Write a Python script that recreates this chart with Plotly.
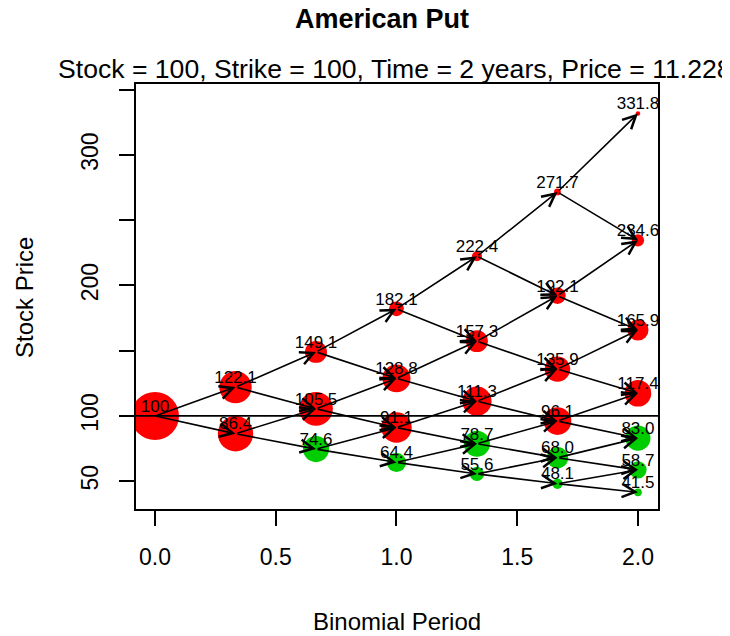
import math
import plotly.graph_objects as go

# ---- data ----
step_times = [0.0, 0.3333, 0.6667, 1.0, 1.3333, 1.6667, 2.0]

price_step0 = [100.0]
price_step1 = [122.1, 86.4]
price_step2 = [149.1, 105.5, 74.6]
price_step3 = [182.1, 128.8, 91.1, 64.4]
price_step4 = [222.4, 157.3, 111.3, 78.7, 55.6]
price_step5 = [271.7, 192.1, 135.9, 96.1, 68.0, 48.1]
price_step6 = [331.8, 234.6, 165.9, 117.4, 83.0, 58.7, 41.5]

# 1 = early exercise optimal (green), 0 = hold (red)
exercise_step0 = [0]
exercise_step1 = [0, 0]
exercise_step2 = [0, 0, 1]
exercise_step3 = [0, 0, 0, 1]
exercise_step4 = [0, 0, 0, 1, 1]
exercise_step5 = [0, 0, 0, 0, 1, 1]
exercise_step6 = [0, 0, 0, 0, 1, 1, 1]

# probability of reaching each node (symbol area is proportional to it)
reach_step0 = [1.0]
reach_step1 = [0.457, 0.543]
reach_step2 = [0.209, 0.496, 0.295]
reach_step3 = [0.095, 0.340, 0.404, 0.160]
reach_step4 = [0.044, 0.207, 0.370, 0.293, 0.087]
reach_step5 = [0.020, 0.118, 0.281, 0.334, 0.199, 0.047]
reach_step6 = [0.009, 0.065, 0.193, 0.306, 0.272, 0.130, 0.026]

strike = 100
title_text = "American Put"
subtitle_text = "Stock = 100, Strike = 100, Time = 2 years, Price = 11.228"
x_ticks = [0.0, 0.5, 1.0, 1.5, 2.0]
x_ticklabels = ["0.0", "0.5", "1.0", "1.5", "2.0"]
y_ticks = [50, 100, 150, 200, 250, 300, 350]
y_ticklabels = ["50", "100", "", "200", "", "300", ""]

prices = [price_step0, price_step1, price_step2, price_step3,
          price_step4, price_step5, price_step6]
exercise = [exercise_step0, exercise_step1, exercise_step2, exercise_step3,
            exercise_step4, exercise_step5, exercise_step6]
reach = [reach_step0, reach_step1, reach_step2, reach_step3,
         reach_step4, reach_step5, reach_step6]

# ---- styling ----
FONT = "Liberation Sans, Arial, Helvetica, sans-serif"
RED = "#FF0000"
GREEN = "#00CD00"
MAX_D = 48
OFF = 8  # default page margin around the plot div

xs, ys, cols, sizes, labels = [], [], [], [], []
for i, t in enumerate(step_times):
    for j, v in enumerate(prices[i]):
        xs.append(t)
        ys.append(v)
        cols.append(GREEN if exercise[i][j] else RED)
        sizes.append(MAX_D * math.sqrt(reach[i][j]))
        labels.append("100" if i == 0 else f"{v:.1f}")

fig = go.Figure()
fig.add_trace(go.Scatter(
    x=xs, y=ys, mode="markers",
    marker=dict(size=sizes, color=cols, opacity=1, line=dict(width=0)),
    cliponaxis=True, hoverinfo="skip", showlegend=False))

fig.add_trace(go.Scatter(
    x=xs, y=ys, mode="text", text=labels, textposition="top center",
    textfont=dict(family=FONT, size=17, color="black"),
    cliponaxis=True, hoverinfo="skip", showlegend=False))

annotations = []
for i in range(len(step_times) - 1):
    for j, v in enumerate(prices[i]):
        for k in (j, j + 1):
            annotations.append(dict(
                x=step_times[i + 1], y=prices[i + 1][k],
                ax=step_times[i], ay=v,
                xref="x", yref="y", axref="x", ayref="y",
                text="", showarrow=True, arrowhead=5,
                arrowwidth=1.6, arrowsize=1.6, arrowcolor="black",
                standoff=0, startstandoff=0))

# plot box in window pixels: x 136..658, y 84..509
W, H = 730, 636
L, R, T, B = 136 - OFF, W - 658 + OFF, 84 - OFF, H - 509 + OFF
PW, PH = 658 - 136, 509 - 84

def px(xwin):
    return (xwin - 136) / PW

def py(ywin):
    return (509 - ywin) / PH

annotations.append(dict(text=f"<b>{title_text}</b>", xref="paper", yref="paper",
                        x=px(382), y=py(19), xanchor="center", yanchor="middle",
                        showarrow=False, font=dict(family=FONT, size=27, color="black")))
annotations.append(dict(text=subtitle_text, xref="paper", yref="paper",
                        x=px(56), y=py(69), xanchor="left", yanchor="middle",
                        showarrow=False, font=dict(family=FONT, size=26.6, color="black")))
annotations.append(dict(text="Binomial Period", xref="paper", yref="paper",
                        x=0.5, y=py(621), xanchor="center", yanchor="middle",
                        showarrow=False, font=dict(family=FONT, size=24, color="black")))
annotations.append(dict(text="Stock Price", xref="paper", yref="paper",
                        x=px(24), y=py(298), xanchor="center", yanchor="middle",
                        textangle=-90,
                        showarrow=False, font=dict(family=FONT, size=24, color="black")))

fig.update_layout(
    width=W, height=H,
    margin=dict(l=L, r=R, t=T, b=B, pad=0),
    paper_bgcolor="white", plot_bgcolor="white",
    font=dict(family=FONT, size=23, color="black"),
    annotations=annotations,
    shapes=[dict(type="line", xref="paper", yref="y", x0=0, x1=1,
                 y0=strike, y1=strike, line=dict(color="black", width=1.8),
                 layer="above")],
    xaxis=dict(range=[-0.0787, 2.083], tickvals=x_ticks, ticktext=x_ticklabels,
               showgrid=False, zeroline=False, showline=True, mirror=True,
               linecolor="black", linewidth=2, ticks="outside", ticklen=15,
               tickwidth=2, tickcolor="black", ticklabelstandoff=11,
               tickfont=dict(family=FONT, size=23)),
    yaxis=dict(range=[28.7, 354.4], tickvals=y_ticks, ticktext=y_ticklabels,
               showgrid=False, zeroline=False, showline=True, mirror=True,
               linecolor="black", linewidth=2, ticks="outside", ticklen=15,
               tickwidth=2, tickcolor="black", tickangle=-90,
               ticklabelstandoff=12, tickfont=dict(family=FONT, size=23)),
)

fig.write_html("out.html")
